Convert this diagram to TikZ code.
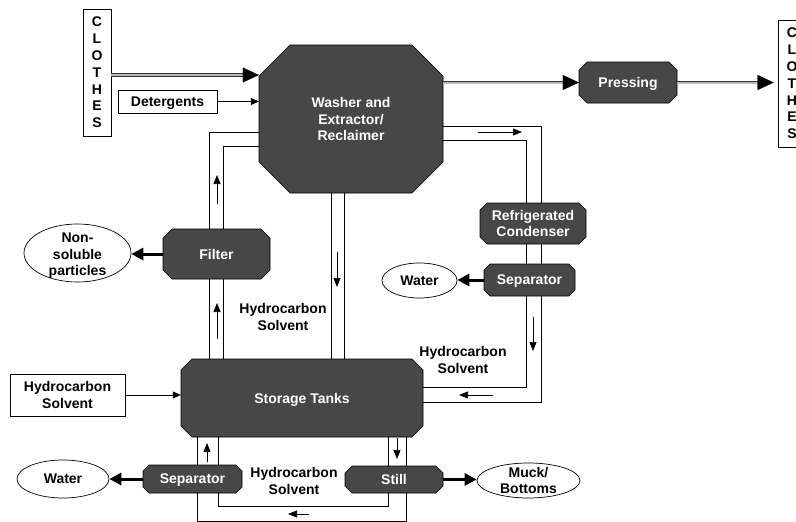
\documentclass[tikz,border=0pt]{standalone}
\usepackage{fontspec}
\setmainfont{Liberation Sans}
\usetikzlibrary{arrows.meta,shapes.geometric,backgrounds,calc}
\definecolor{boxfill}{HTML}{474747}
\tikzset{
  lbl/.style={font=\fontsize{14}{16.5}\selectfont\bfseries, align=center, inner sep=0pt, text depth=0pt},
  wlbl/.style={lbl, text=white},
  octfill/.style={fill=boxfill, draw=black, line width=0.6pt},
  plainbox/.style={draw=black, line width=0.7pt, inner sep=0pt},
  oval/.style={ellipse, draw=black, line width=0.7pt, inner sep=0pt},
  pipe/.style={draw=black, line width=0.75pt},
  flow/.style={line width=0.7pt, -{Triangle[length=9pt,width=7pt]}},
  feed/.style={line width=0.7pt, -{Triangle[length=8pt,width=7pt]}},
  waste/.style={line width=3pt, -{Triangle[length=12pt,width=12pt]}},
  dbl/.style={draw=gray!40!black, line width=0.8pt, double=gray!55, double distance=2pt},
  bigtip/.style={line width=0.1pt, -{Triangle[length=16pt,width=15pt]}},
}
\newcommand\octbox[7]{%
  \draw[octfill] (#2+#6,#3) -- (#4-#6,#3) -- (#4,#3+#6) -- (#4,#5-#6) -- (#4-#6,#5) -- (#2+#6,#5) -- (#2,#5-#6) -- (#2,#3+#6) -- cycle;
  \node[wlbl, minimum width={#4-#2}, minimum height={#5-#3}] (#1) at ({(#2+#4)/2},{(#3+#5)/2}) {#7};
}
\begin{document}
\begin{tikzpicture}[x=1pt,y=-1pt]
\useasboundingbox (0,0) rectangle (796,522);
\clip (0,0) rectangle (796,522);

% process blocks
\octbox{washer}{259}{45}{443}{193}{31}{Washer and\\Extractor/\\Reclaimer}
\octbox{pressing}{579}{62}{677}{103}{8}{Pressing}
\octbox{condenser}{480}{203}{586}{244}{7}{Refrigerated\\Condenser}
\octbox{sepR}{484}{264}{575}{296}{6}{Separator}
\octbox{filter}{163}{229}{270}{279}{9}{Filter}
\octbox{storage}{181}{359}{423}{437}{11}{Storage Tanks}
\octbox{sepL}{143}{465}{242}{493}{6}{Separator}
\octbox{still}{345}{466}{443}{493}{7}{Still}

% plain boxes
\node[plainbox, lbl, font=\fontsize{14}{16.8}\selectfont\bfseries, minimum width=28, minimum height=127] (clothesL) at (97,72.5) {C\\L\\O\\T\\H\\E\\S};
\node[plainbox, lbl, font=\fontsize{14}{16.8}\selectfont\bfseries, minimum width=28, minimum height=127] (clothesR) at (792,83.5) {C\\L\\O\\T\\H\\E\\S};
\node[plainbox, lbl, minimum width=99, minimum height=23] (detergents) at (167.5,101.5) {Detergents};
\node[plainbox, lbl, minimum width=115, minimum height=42] (hcbox) at (67.5,395) {Hydrocarbon\\Solvent};

% ellipses
\node[oval, minimum width=107, minimum height=58, label={[lbl, yshift=-1.5pt]center:Non-\\soluble\\particles}] (nonsol) at (77.5,253) {};
\node[oval, minimum width=75, minimum height=35, label={[lbl]center:Water}] (waterR) at (419.5,280.5) {};
\node[oval, minimum width=92, minimum height=38, label={[lbl]center:Water}] (waterL) at (63,479) {};
\node[oval, minimum width=103, minimum height=35, label={[lbl]center:Muck/\\Bottoms}] (muck) at (528.5,480.5) {};

% free labels
\node[lbl] (hs1) at (283,317) {Hydrocarbon\\Solvent};
\node[lbl] (hs2) at (463,360) {Hydrocarbon\\Solvent};
\node[lbl] (hs3) at (294,481) {Hydrocarbon\\Solvent};

% pipes
\begin{pgfonlayer}{background}
\fill[white] (0,0) rectangle (796,522);
\draw[pipe] (storage.north -| 209,0) |- (washer.west |- 0,132);
\draw[pipe] (storage.north -| 223,0) |- (washer.west |- 0,146);
\draw[pipe] (washer.south -| 331,0) -- (storage.north -| 331,0);
\draw[pipe] (washer.south -| 344,0) -- (storage.north -| 344,0);
\draw[pipe] (washer.east |- 0,126) -| (541,402) -- (storage.east |- 0,402);
\draw[pipe] (washer.east |- 0,140) -| (526,387) -- (storage.east |- 0,387);
\draw[pipe] (storage.south -| 197,0) |- (406,521) -- (storage.south -| 406,0);
\draw[pipe] (storage.south -| 218,0) |- (388,506) -- (storage.south -| 388,0);
\end{pgfonlayer}

% flow direction arrows
\draw[flow] (217,204) -- (217,175);
\draw[flow] (217,339) -- (217,303);
\draw[flow] (337,252) -- (337,287);
\draw[flow] (478,132) -- (522,132);
\draw[flow] (533,317) -- (533,351);
\draw[flow] (493,395) -- (459,395);
\draw[flow] (207,462) -- (207,443);
\draw[flow] (397,438) -- (397,459);
\draw[flow] (309,514) -- (288,514);

% feeds
\draw[feed] (detergents.east) -- (washer.west |- detergents.east);
\draw[feed] (hcbox.east) -- (storage.west |- hcbox.east);

% waste outputs
\draw[waste] (filter.west) -- (nonsol.east |- filter.west);
\draw[waste] (sepR.west) -- (waterR.east |- sepR.west);
\draw[waste] (sepL.west) -- (waterL.east |- sepL.west);
\draw[waste] (still.east) -- (muck.west |- still.east);

% clothes flow
\coordinate (tipW) at (washer.west |- 0,75);
\coordinate (tipR) at ($(clothesR.west |- pressing.east)+(-4,0)$);
\draw[dbl] (clothesL.east |- tipW) -- ($(tipW)+(-15,0)$);
\draw[bigtip] ($(tipW)+(-16,0)$) -- (tipW);
\draw[dbl] (washer.east |- pressing.west) -- ($(pressing.west)+(-15,0)$);
\draw[bigtip] ($(pressing.west)+(-16,0)$) -- (pressing.west);
\draw[dbl] (pressing.east) -- ($(tipR)+(-15,0)$);
\draw[bigtip] ($(tipR)+(-16,0)$) -- (tipR);
\end{tikzpicture}
\end{document}
